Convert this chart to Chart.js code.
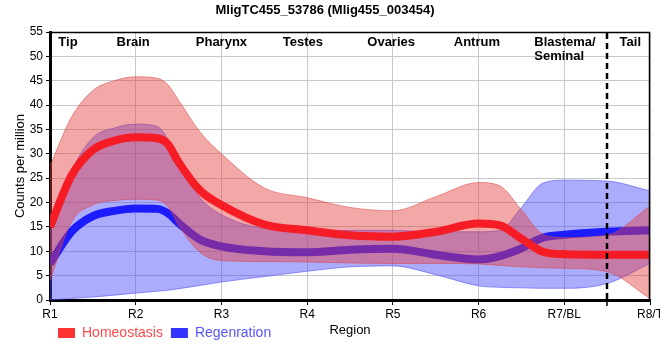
<!DOCTYPE html>
<html>
<head>
<meta charset="utf-8">
<script src="https://cdn.jsdelivr.net/npm/chart.js@4/dist/chart.umd.min.js"></script>
<style>
  html, body { margin: 0; padding: 0; background: #fff; }
  #wrap { width: 660px; height: 360px; }
</style>
</head>
<body>
<div id="wrap"><canvas id="c" width="660" height="360"></canvas></div>
<script>
// ---- data ----
const titleText = 'MligTC455_53786 (Mlig455_003454)';
const tickLabels = ['R1', 'R2', 'R3', 'R4', 'R5', 'R6', 'R7/BL', 'R8/T'];
const regionNames = ['Tip', 'Brain', 'Pharynx', 'Testes', 'Ovaries', 'Antrum', 'Blastema/\nSeminal', 'Tail'];
const regionAt = [0.21, 0.97, 2.0, 2.95, 3.98, 4.98, 5.65, 6.77];
const dividerAt = 6.5;
const seriesNames = ['Homeostasis', 'Regenration'];

const xPos    = [0, 0.25, 0.5, 0.75, 1, 1.25, 1.375, 1.5, 1.75, 2, 2.5, 3, 3.5, 4, 4.5, 5, 5.25, 5.5, 5.75, 6, 6.5, 7];
const homMean = [15, 25.5, 30.8, 32.7, 33.4, 33.2, 32, 28.3, 22.5, 19.5, 15.5, 14.3, 13.3, 13, 14, 15.7, 15.3, 12.6, 9.9, 9.4, 9.3, 9.3];
const homHi   = [27.5, 37.5, 43, 45, 45.8, 45.5, 44.2, 41, 34.5, 30, 23, 21, 19, 18.3, 21.2, 24.1, 23.4, 18.5, 13.5, 12.8, 13.3, 19.3];
const homLo   = [4, 16, 19.5, 20.4, 20.7, 20.5, 19.2, 15.3, 9.8, 8.1, 7.9, 7.8, 7.6, 7.5, 7.5, 7.4, 7.1, 6.8, 6.6, 6.5, 5.8, 0.3];
const regMean = [7.5, 14, 17.2, 18.3, 18.8, 18.7, 17.8, 15.8, 12.4, 11, 10, 9.8, 10.3, 10.5, 9.3, 8.3, 9, 10.6, 12.8, 13.4, 14, 14.3];
const regHi   = [14, 26.4, 33.3, 35.3, 36.1, 35.6, 33, 28.2, 21, 17.5, 14.7, 14.3, 14.3, 14.3, 14, 14, 14.3, 19, 24, 24.6, 24.4, 22.4];
const regLo   = [0, 0.3, 0.6, 1, 1.4, 1.8, 2, 2.3, 3, 3.7, 4.8, 5.9, 6.8, 7, 5.2, 2.9, 2.6, 2.5, 2.4, 2.4, 3.4, 7.5];

const pts = arr => arr.map((v, i) => ({ x: xPos[i], y: v }));

const RED_LINE = 'rgb(245,28,38)';
const BLUE_LINE = 'rgb(28,28,255)';
const RED_BAND = 'rgba(228,62,62,0.45)';
const BLUE_BAND = 'rgba(72,72,250,0.45)';

const common = { pointRadius: 0, pointHoverRadius: 0, cubicInterpolationMode: 'monotone' };

const datasets = [
  Object.assign({ label: seriesNames[0], data: pts(homMean), borderColor: RED_LINE, borderWidth: 8, fill: false, order: 0 }, common),
  Object.assign({ label: 'homHi', data: pts(homHi), borderColor: 'rgba(215,70,70,0.55)', borderWidth: 1, backgroundColor: RED_BAND, fill: '+1', order: 1 }, common),
  Object.assign({ label: 'homLo', data: pts(homLo), borderColor: 'rgba(215,70,70,0.55)', borderWidth: 1, fill: false, order: 1 }, common),
  Object.assign({ label: seriesNames[1], data: pts(regMean), borderColor: BLUE_LINE, borderWidth: 8, fill: false, order: 2 }, common),
  Object.assign({ label: 'regHi', data: pts(regHi), borderColor: 'rgba(70,70,240,0.55)', borderWidth: 1, backgroundColor: BLUE_BAND, fill: '+1', order: 3 }, common),
  Object.assign({ label: 'regLo', data: pts(regLo), borderColor: 'rgba(70,70,240,0.55)', borderWidth: 1, fill: false, order: 3 }, common)
];

const decor = {
  id: 'decor',
  afterDatasetsDraw(chart) {
    const { ctx, chartArea: a, scales: { x } } = chart;
    ctx.save();
    // thin frame top/right
    ctx.strokeStyle = '#000';
    ctx.lineWidth = 1.5;
    ctx.beginPath();
    ctx.moveTo(a.left, a.top + 0.5);
    ctx.lineTo(a.right - 0.5, a.top + 0.5);
    ctx.lineTo(a.right - 0.5, a.bottom);
    ctx.stroke();
    // dashed divider
    const dx = Math.round(x.getPixelForValue(dividerAt));
    ctx.setLineDash([6, 4]);
    ctx.lineWidth = 2.5;
    ctx.beginPath();
    ctx.moveTo(dx, a.top + 1);
    ctx.lineTo(dx, a.bottom);
    ctx.stroke();
    ctx.setLineDash([]);
    ctx.lineWidth = 1.5;
    ctx.beginPath();
    ctx.moveTo(dx, a.bottom);
    ctx.lineTo(dx, a.bottom + 6);
    ctx.stroke();
    // region labels
    ctx.fillStyle = '#000';
    ctx.font = 'bold 13px "Liberation Sans", Arial, sans-serif';
    ctx.textBaseline = 'middle';
    regionNames.forEach((name, i) => {
      const px = x.getPixelForValue(regionAt[i]);
      const lines = name.split('\n');
      ctx.textAlign = lines.length > 1 ? 'left' : 'center';
      lines.forEach((ln, j) => ctx.fillText(ln, px, a.top + 10 + j * 14));
    });
    // axis title
    ctx.font = '13px "Liberation Sans", Arial, sans-serif';
    ctx.textAlign = 'center';
    ctx.fillText('Region', (a.left + a.right) / 2, 330);
    ctx.restore();
  }
};

new Chart(document.getElementById('c'), {
  type: 'line',
  data: { datasets },
  plugins: [decor],
  options: {
    responsive: false,
    animation: false,
    events: [],
    layout: { padding: { left: 0, right: 10, top: 0, bottom: 10 } },
    plugins: {
      tooltip: { enabled: false },
      title: {
        display: true,
        text: titleText,
        color: '#000',
        font: { family: '"Liberation Sans", Arial, sans-serif', size: 13, weight: 'bold' },
        padding: { top: 3, bottom: 13.4 }
      },
      legend: {
        position: 'bottom',
        align: 'start',
        fullSize: false,
        labels: {
          boxWidth: 17,
          boxHeight: 10,
          padding: 8,
          font: { family: '"Liberation Sans", Arial, sans-serif', size: 14 },
          generateLabels: () => [
            { text: seriesNames[0], fillStyle: '#ff3434', strokeStyle: '#ff3434', lineWidth: 0, fontColor: '#ff4a4a', datasetIndex: 0 },
            { text: seriesNames[1], fillStyle: '#3434ff', strokeStyle: '#3434ff', lineWidth: 0, fontColor: '#5656ff', datasetIndex: 3 }
          ]
        }
      }
    },
    scales: {
      x: {
        type: 'linear',
        min: 0,
        max: 7,
        afterFit: s => { s.height = 18; s.paddingLeft = 0; s.paddingRight = 0; },
        afterBuildTicks: s => { s.ticks = tickLabels.map((_, i) => ({ value: i })); },
        ticks: {
          autoSkip: false,
          maxRotation: 0,
          color: '#000',
          padding: 2,
          font: { family: '"Liberation Sans", Arial, sans-serif', size: 12 },
          callback: v => tickLabels[v]
        },
        grid: { color: '#c8c8c8', lineWidth: 1, tickColor: '#000', tickLength: 5 },
        border: { display: true, color: '#000', width: 3 }
      },
      y: {
        min: 0,
        max: 55,
        afterFit: s => { s.width = 50; s.paddingTop = 0; s.paddingBottom = 0; },
        ticks: {
          stepSize: 5,
          color: '#000',
          padding: 3,
          font: { family: '"Liberation Sans", Arial, sans-serif', size: 12 }
        },
        grid: { color: '#c8c8c8', lineWidth: 1, tickColor: '#000', tickLength: 4 },
        border: { display: true, color: '#000', width: 3 },
        title: {
          display: true,
          text: 'Counts per million',
          color: '#000',
          padding: { top: 13, bottom: 0 },
          font: { family: '"Liberation Sans", Arial, sans-serif', size: 13 }
        }
      }
    }
  }
});
</script>
</body>
</html>
